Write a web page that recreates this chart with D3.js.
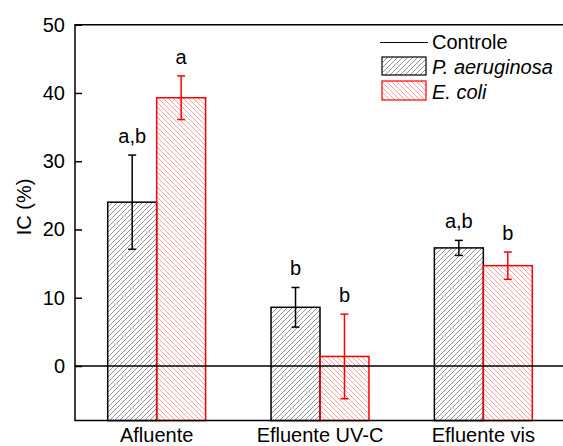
<!DOCTYPE html>
<meta charset="utf-8">
<style>
html, body { margin: 0; padding: 0; background: #fff; }
text { font-family: Arial, "Liberation Sans", sans-serif; }
</style>
<body>
<svg width="563" height="446"></svg>
<script src="https://d3js.org/d3.v7.min.js"></script>
<script>

// data
var categories = ["Afluente", "Efluente UV-C", "Efluente vis"];
var series = ["P. aeruginosa", "E. coli"];
var values_pa = [24.0, 8.6, 17.3];
var errors_pa = [6.9, 2.9, 1.1];
var letters_pa = ["a,b", "b", "a,b"];
var values_ec = [39.3, 1.4, 14.7];
var errors_ec = [3.2, 6.2, 2.0];
var letters_ec = ["a", "b", "b"];
var y_ticks = [0, 10, 20, 30, 40, 50];

var colours = {"P. aeruginosa": "#000", "E. coli": "#ff0000"};
var hatch_colours = {"P. aeruginosa": "#666", "E. coli": "#ff8585"};

var svg = d3.select("svg");
var plot_left = 75, plot_right = 565, plot_top = 24.7, plot_bottom = 420.6;
var font_size = 20;

var x = d3.scaleBand().domain(categories).range([plot_left, plot_right]).padding(0);
var xs = d3.scaleBand().domain(series).range([0, x.bandwidth()]).paddingInner(0).paddingOuter(0.668);
var y = d3.scaleLinear().domain([-8, 50]).range([plot_bottom, plot_top]);

// hatch patterns
var defs = svg.append("defs");
defs.append("pattern")
    .attr("id", "hatch_pa")
    .attr("patternUnits", "userSpaceOnUse")
    .attr("width", 5).attr("height", 5)
  .append("path")
    .attr("d", "M-1,1 l2,-2 M0,5 l5,-5 M4,6 l2,-2")
    .attr("stroke", hatch_colours["P. aeruginosa"])
    .attr("stroke-width", 0.7);
defs.append("pattern")
    .attr("id", "hatch_ec")
    .attr("patternUnits", "userSpaceOnUse")
    .attr("width", 5).attr("height", 5)
  .append("path")
    .attr("d", "M-1,4 l2,2 M0,0 l5,5 M4,-1 l2,2")
    .attr("stroke", hatch_colours["E. coli"])
    .attr("stroke-width", 0.8);

var rows = [];
categories.forEach(function(c, i) {
    rows.push({cat: c, s: "P. aeruginosa", v: values_pa[i], e: errors_pa[i], l: letters_pa[i], fill: "url(#hatch_pa)"});
    rows.push({cat: c, s: "E. coli", v: values_ec[i], e: errors_ec[i], l: letters_ec[i], fill: "url(#hatch_ec)"});
});

function bx(d) { return x(d.cat) + xs(d.s); }
function cx(d) { return bx(d) + xs.bandwidth() / 2; }

// bars run down to the bottom of the frame
svg.append("g").selectAll("rect")
    .data(rows)
    .enter().append("rect")
    .attr("x", bx)
    .attr("y", function(d) { return y(d.v); })
    .attr("width", xs.bandwidth())
    .attr("height", function(d) { return plot_bottom - y(d.v); })
    .attr("fill", function(d) { return d.fill; })
    .attr("stroke", function(d) { return colours[d.s]; })
    .attr("stroke-width", 1.5);

// controle line at zero
svg.append("line")
    .attr("x1", plot_left).attr("x2", plot_right)
    .attr("y1", y(0)).attr("y2", y(0))
    .attr("stroke", "#000").attr("stroke-width", 1.5);

// error bars
var err = svg.append("g").selectAll("g")
    .data(rows)
    .enter().append("g")
    .attr("stroke", function(d) { return colours[d.s]; })
    .attr("stroke-width", 1.5);
err.append("line")
    .attr("x1", cx).attr("x2", cx)
    .attr("y1", function(d) { return y(d.v + d.e); })
    .attr("y2", function(d) { return y(d.v - d.e); });
err.append("line")
    .attr("x1", function(d) { return cx(d) - 4; }).attr("x2", function(d) { return cx(d) + 4; })
    .attr("y1", function(d) { return y(d.v + d.e); })
    .attr("y2", function(d) { return y(d.v + d.e); });
err.append("line")
    .attr("x1", function(d) { return cx(d) - 4; }).attr("x2", function(d) { return cx(d) + 4; })
    .attr("y1", function(d) { return y(d.v - d.e); })
    .attr("y2", function(d) { return y(d.v - d.e); });

// significance letters
svg.append("g").selectAll("text")
    .data(rows)
    .enter().append("text")
    .attr("x", cx)
    .attr("y", function(d) { return y(d.v + d.e) - 12; })
    .attr("text-anchor", "middle")
    .attr("font-size", font_size)
    .attr("fill", "#000")
    .text(function(d) { return d.l; });

// frame
svg.append("path")
    .attr("d", "M" + plot_right + "," + plot_top + "H" + plot_left + "V" + plot_bottom + "H" + plot_right)
    .attr("fill", "none")
    .attr("stroke", "#000")
    .attr("stroke-width", 1.5);

// y axis ticks (inside) and labels
var yAxis = d3.axisLeft(y).tickValues(y_ticks).tickSizeInner(-7).tickSizeOuter(0).tickPadding(10);
var ya = svg.append("g").attr("transform", "translate(" + plot_left + ",0)").call(yAxis);
ya.select(".domain").remove();
ya.selectAll("line").attr("stroke-width", 1.5);
ya.selectAll("text").attr("font-size", font_size).attr("font-family", "Arial, 'Liberation Sans', sans-serif").attr("fill", "#000");

// x category labels
svg.append("g").selectAll("text")
    .data(categories)
    .enter().append("text")
    .attr("x", function(d) { return x(d) + x.bandwidth() / 2; })
    .attr("y", 441.5)
    .attr("text-anchor", "middle")
    .attr("font-size", font_size)
    .text(function(d) { return d; });

// y title
svg.append("text")
    .attr("transform", "translate(31,207) rotate(-90)")
    .attr("text-anchor", "middle")
    .attr("font-size", font_size)
    .text("IC (%)");

// legend
var lg = svg.append("g");
lg.append("line")
    .attr("x1", 380).attr("x2", 428).attr("y1", 42.5).attr("y2", 42.5)
    .attr("stroke", "#000").attr("stroke-width", 1.2);
lg.append("text").attr("x", 432).attr("y", 48.5).attr("font-size", font_size).text("Controle");
lg.append("rect").attr("x", 382).attr("y", 57).attr("width", 44).attr("height", 18)
    .attr("fill", "url(#hatch_pa)").attr("stroke", "#000").attr("stroke-width", 1.2);
lg.append("text").attr("x", 432).attr("y", 73.5).attr("font-size", font_size).attr("font-style", "italic").text(series[0]);
lg.append("rect").attr("x", 382).attr("y", 81).attr("width", 44).attr("height", 19)
    .attr("fill", "url(#hatch_ec)").attr("stroke", "#ff0000").attr("stroke-width", 1.2);
lg.append("text").attr("x", 432).attr("y", 98.5).attr("font-size", font_size).attr("font-style", "italic").text(series[1]);

</script>
</body>
